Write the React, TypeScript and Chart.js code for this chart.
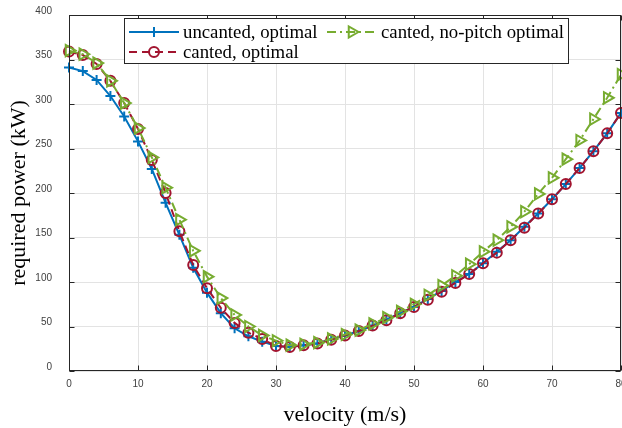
import React, { useEffect, useRef } from "react";
import { Chart, registerables } from "chart.js";
import { drawPoint } from "chart.js/helpers";

Chart.register(...registerables);

// ---- data ----
const velocity = [
  0, 2, 4, 6, 8, 10, 12, 14, 16, 18, 20, 22, 24, 26, 28, 30, 32, 34, 36, 38, 40,
  42, 44, 46, 48, 50, 52, 54, 56, 58, 60, 62, 64, 66, 68, 70, 72, 74, 76, 78, 80,
];
const uncantedOptimal = [
  341, 337, 327, 309, 286, 258, 227, 189, 153, 116, 88, 65, 48, 39, 33, 28, 27, 29, 31, 36, 40,
  45, 51, 58, 65, 72, 81, 90, 100, 109, 121, 134, 147, 162, 177, 193, 210, 228, 247, 267, 290,
];
const cantedOptimal = [
  359, 355, 345, 326, 301, 272, 237, 200, 157, 119, 93, 71, 54, 43, 36, 28, 27, 29, 31, 35, 40,
  45, 51, 57, 65, 72, 80, 89, 99, 109, 121, 133, 147, 161, 177, 193, 210, 228, 247, 267, 290,
];
const cantedNoPitchOptimal = [
  360, 356, 346, 326, 301, 273, 240, 206, 170, 135, 106, 82, 63, 50, 40, 34, 29, 30, 32, 36, 41,
  46, 53, 60, 67, 75, 85, 96, 107, 120, 134, 147, 162, 179, 199, 217, 238, 259, 283, 307, 333,
];
const seriesLabels = ["uncanted, optimal", "canted, optimal", "canted, no-pitch optimal"];
const xTickStep = 10;
const yTickStep = 50;
const xRange = [0, 80];
const yRange = [0, 400];
const xTitle = "velocity (m/s)";
const yTitle = "required power (kW)";

const SERIF = '"Liberation Serif", "Times New Roman", serif';
const SANS = '"Liberation Sans", Arial, sans-serif';
const AXIS_COLOR = "#262626";

const axesBoxPlugin = {
  id: "axesBox",
  afterDatasetsDraw(chart: any) {
    const { ctx, chartArea } = chart;
    const { left, right, top, bottom } = chartArea;
    const xs = chart.scales.x;
    const ys = chart.scales.y;
    ctx.save();
    ctx.strokeStyle = AXIS_COLOR;
    ctx.lineWidth = 1;
    ctx.beginPath();
    const L = Math.round(left) + 0.5;
    const R = Math.round(right) - 0.5;
    const T = Math.round(top) + 0.5;
    const B = Math.round(bottom) - 0.5;
    const tl = 5;
    xs.ticks.forEach((t: any) => {
      const px = Math.round(xs.getPixelForValue(t.value)) + 0.5;
      ctx.moveTo(px, B);
      ctx.lineTo(px, B - tl);
      ctx.moveTo(px, T);
      ctx.lineTo(px, T + tl);
    });
    ys.ticks.forEach((t: any) => {
      const py = Math.round(ys.getPixelForValue(t.value)) + 0.5;
      ctx.moveTo(L, py);
      ctx.lineTo(L + tl, py);
      ctx.moveTo(R, py);
      ctx.lineTo(R - tl, py);
    });
    ctx.stroke();
    ctx.strokeRect(L, T, R - L, B - T);
    ctx.restore();
  },
};

const legendPlugin = {
  id: "matlabLegend",
  afterDraw(chart: any) {
    const { ctx } = chart;
    ctx.save();
    const bx = 124.5, by = 18.5, bw = 444, bh = 45;
    ctx.fillStyle = "#ffffff";
    ctx.fillRect(bx, by, bw, bh);
    ctx.strokeStyle = AXIS_COLOR;
    ctx.lineWidth = 1;
    ctx.strokeRect(bx, by, bw, bh);
    const slots = [
      { ds: 0, x: 129, y: 32 },
      { ds: 1, x: 129, y: 52 },
      { ds: 2, x: 327, y: 32 },
    ];
    slots.forEach((s) => {
      const d: any = chart.data.datasets[s.ds];
      ctx.strokeStyle = d.borderColor;
      ctx.lineWidth = d.borderWidth;
      ctx.setLineDash(d.borderDash || []);
      ctx.beginPath();
      ctx.moveTo(s.x, s.y);
      ctx.lineTo(s.x + 50, s.y);
      ctx.stroke();
      ctx.setLineDash([]);
      ctx.strokeStyle = d.pointBorderColor;
      ctx.fillStyle = "rgba(0,0,0,0)";
      ctx.lineWidth = d.pointBorderWidth;
      drawPoint(
        ctx,
        {
          pointStyle: d.pointStyle,
          rotation: d.pointRotation || 0,
          radius: d.pointRadius,
          borderWidth: d.pointBorderWidth,
        } as any,
        s.x + 25,
        s.y
      );
      ctx.fillStyle = "#000000";
      ctx.font = `18.8px ${SERIF}`;
      ctx.textBaseline = "middle";
      ctx.textAlign = "left";
      ctx.fillText(d.label, s.x + 54, s.y + 1);
    });
    ctx.restore();
  },
};

export default function App() {
  const canvasRef = useRef<HTMLCanvasElement | null>(null);

  useEffect(() => {
    if (!canvasRef.current) return;
    const chart = new Chart(canvasRef.current, {
      type: "line",
      data: {
        labels: velocity,
        datasets: [
          {
            label: seriesLabels[0],
            data: velocity.map((v, i) => ({ x: v, y: uncantedOptimal[i] })),
            borderColor: "#0072BD",
            borderWidth: 2,
            pointStyle: "cross",
            pointRadius: 5,
            pointBorderWidth: 2,
            pointBorderColor: "#0072BD",
            pointBackgroundColor: "rgba(0,0,0,0)",
            fill: false,
            tension: 0,
            order: 3,
            clip: false,
          } as any,
          {
            label: seriesLabels[1],
            data: velocity.map((v, i) => ({ x: v, y: cantedOptimal[i] })),
            borderColor: "#A2142F",
            borderWidth: 2,
            borderDash: [8, 5],
            pointStyle: "circle",
            pointRadius: 5,
            pointBorderWidth: 2,
            pointBorderColor: "#A2142F",
            pointBackgroundColor: "rgba(0,0,0,0)",
            fill: false,
            tension: 0,
            order: 2,
            clip: false,
          } as any,
          {
            label: seriesLabels[2],
            data: velocity.map((v, i) => ({ x: v, y: cantedNoPitchOptimal[i] })),
            borderColor: "#77AC30",
            borderWidth: 2,
            borderDash: [9, 4, 2, 4],
            pointStyle: "triangle",
            pointRotation: 90,
            pointRadius: 6.5,
            pointBorderWidth: 2,
            pointBorderColor: "#77AC30",
            pointBackgroundColor: "rgba(0,0,0,0)",
            fill: false,
            tension: 0,
            order: 1,
            clip: false,
          } as any,
        ],
      },
      options: {
        animation: false,
        responsive: false,
        devicePixelRatio: 1,
        layout: { autoPadding: false, padding: { top: 15, right: 1, left: 0, bottom: 0 } },
        plugins: {
          legend: { display: false },
          tooltip: { enabled: false },
        },
        scales: {
          x: {
            type: "linear",
            min: xRange[0],
            max: xRange[1],
            border: { display: false },
            grid: { color: "#e3e3e3", lineWidth: 1, drawTicks: false },
            ticks: {
              stepSize: xTickStep,
              padding: 7,
              color: "#404040",
              font: { family: SANS, size: 10 },
              maxRotation: 0,
              autoSkip: false,
            },
            title: {
              display: true,
              text: xTitle,
              color: "#000000",
              font: { family: SERIF, size: 22 },
              padding: { top: 0, bottom: 0 },
            },
            afterFit(scale: any) {
              scale.height = 57;
              scale.paddingLeft = 0;
              scale.paddingRight = 0;
            },
          },
          y: {
            type: "linear",
            min: yRange[0],
            max: yRange[1],
            border: { display: false },
            grid: { color: "#e3e3e3", lineWidth: 1, drawTicks: false },
            ticks: {
              stepSize: yTickStep,
              padding: 17,
              labelOffset: -4,
              color: "#404040",
              font: { family: SANS, size: 10 },
              autoSkip: false,
            },
            title: {
              display: true,
              text: yTitle,
              color: "#000000",
              font: { family: SERIF, size: 22 },
              padding: { top: 6, bottom: 0 },
            },
            afterFit(scale: any) {
              scale.width = 69;
              scale.paddingTop = 0;
              scale.paddingBottom = 0;
            },
          },
        },
      },
      plugins: [axesBoxPlugin, legendPlugin],
    });
    return () => chart.destroy();
  }, []);

  return (
    <div style={{ position: "fixed", left: 0, top: 0, width: 622, height: 428, background: "#fff" }}>
      <canvas ref={canvasRef} width={622} height={428} style={{ display: "block" }} />
    </div>
  );
}
